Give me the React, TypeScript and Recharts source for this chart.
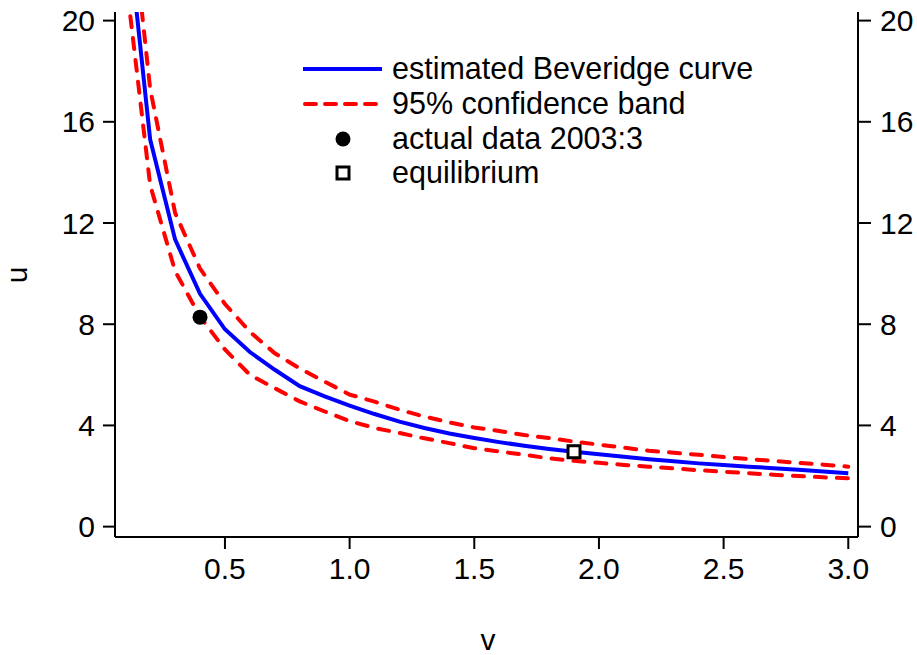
import { ComposedChart, Line, Scatter, XAxis, YAxis } from 'recharts';

// vacancy grid and curves
const vGrid = [
  0.1, 0.2, 0.3, 0.4, 0.5, 0.6, 0.7, 0.8, 0.9, 1.0,
  1.1, 1.2, 1.3, 1.4, 1.5, 1.6, 1.7, 1.8, 1.9, 2.0,
  2.1, 2.2, 2.3, 2.4, 2.5, 2.6, 2.7, 2.8, 2.9, 3.0,
];
const estimated = [
  24.6, 15.3, 11.35, 9.2, 7.8, 6.9, 6.2, 5.55, 5.15, 4.78,
  4.45, 4.15, 3.9, 3.68, 3.5, 3.34, 3.2, 3.07, 2.96, 2.86,
  2.76, 2.66, 2.58, 2.5, 2.44, 2.37, 2.31, 2.25, 2.18, 2.11,
];
const upperBand = [
  26.5, 17.3, 12.4, 10.2, 8.8, 7.7, 6.85, 6.25, 5.73, 5.22,
  4.94, 4.62, 4.35, 4.12, 3.92, 3.78, 3.62, 3.5, 3.36, 3.24,
  3.12, 3.0, 2.92, 2.84, 2.75, 2.67, 2.6, 2.52, 2.45, 2.37,
];
const lowerBand = [
  21.9, 13.5, 10.1, 8.3, 7.0, 6.0, 5.47, 4.95, 4.55, 4.17,
  3.9, 3.7, 3.49, 3.3, 3.1, 2.97, 2.84, 2.7, 2.6, 2.52,
  2.44, 2.37, 2.3, 2.23, 2.17, 2.11, 2.05, 2.0, 1.95, 1.91,
];
const actualPoint = [{ v: 0.4, u: 8.28 }];
const equilibriumPoint = [{ v: 1.9, u: 2.96 }];

const xTicks = [0.5, 1.0, 1.5, 2.0, 2.5, 3.0];
const yTicks = [0, 4, 8, 12, 16, 20];
const legendLabels = ['estimated Beveridge curve', '95% confidence band', 'actual data 2003:3', 'equilibrium'];

const rows = vGrid.map((v, i) => ({ v, est: estimated[i], upper: upperBand[i], lower: lowerBand[i] }));

const FONT = '"Liberation Sans", Arial, sans-serif';
const FS = 30;
const xDomain = [0.059, 3.039];
const yDomain = [-0.41, 20.34];
const axisStroke = { stroke: '#000', strokeWidth: 2 };
const tickStyle = { fontSize: FS, fill: '#000', fontFamily: FONT };

const Dot = (p: any) => <circle cx={p.cx} cy={p.cy} r={7.5} fill="#000" />;
const Box = (p: any) => (
  <rect x={p.cx - 6} y={p.cy - 6} width={12} height={12} fill="#fff" stroke="#000" strokeWidth={3} />
);

export default function App() {
  const rowY = [69, 104, 139, 173];
  return (
    <div style={{ position: 'absolute', left: 0, top: 0, width: 917, height: 655, background: '#fff' }}>
      <ComposedChart width={917} height={655} data={rows} margin={{ top: 12, right: 0, bottom: 0, left: 0 }}>
        <XAxis
          dataKey="v"
          type="number"
          domain={xDomain}
          allowDataOverflow
          ticks={xTicks}
          tickFormatter={(v: number) => v.toFixed(1)}
          height={118}
          tickSize={12}
          tickMargin={9}
          axisLine={axisStroke}
          tickLine={axisStroke}
          tick={tickStyle}
        />
        <XAxis
          xAxisId="top"
          orientation="top"
          dataKey="v"
          type="number"
          domain={xDomain}
          allowDataOverflow
          height={0}
          tick={false}
          tickLine={false}
          axisLine={axisStroke}
        />
        <YAxis
          type="number"
          domain={yDomain}
          allowDataOverflow
          ticks={yTicks}
          width={115}
          tickSize={12}
          tickMargin={8}
          axisLine={axisStroke}
          tickLine={axisStroke}
          tick={tickStyle}
        />
        <YAxis
          yAxisId="right"
          orientation="right"
          type="number"
          domain={yDomain}
          allowDataOverflow
          ticks={yTicks}
          width={59}
          tickSize={13}
          tickMargin={9}
          axisLine={axisStroke}
          tickLine={axisStroke}
          tick={tickStyle}
        />
        <Line type="linear" dataKey="upper" stroke="#ff0000" strokeWidth={4} strokeDasharray="11 11" strokeLinecap="round" dot={false} isAnimationActive={false} />
        <Line type="linear" dataKey="lower" stroke="#ff0000" strokeWidth={4} strokeDasharray="11 11" strokeLinecap="round" dot={false} isAnimationActive={false} />
        <Line type="linear" dataKey="est" stroke="#0000ff" strokeWidth={4} dot={false} isAnimationActive={false} />
        <Scatter data={actualPoint} dataKey="u" shape={Dot} isAnimationActive={false} />
        <Scatter data={equilibriumPoint} dataKey="u" shape={Box} isAnimationActive={false} />
      </ComposedChart>
      <svg width={917} height={655} style={{ position: 'absolute', left: 0, top: 0, pointerEvents: 'none' }}>
        <g fontFamily={FONT} fontSize={30.5} fill="#000">
          <line x1={303} x2={382} y1={rowY[0]} y2={rowY[0]} stroke="#0000ff" strokeWidth={4} />
          <line x1={305} x2={382} y1={rowY[1]} y2={rowY[1]} stroke="#ff0000" strokeWidth={4} strokeDasharray="11 9" strokeLinecap="round" />
          <circle cx={343} cy={rowY[2]} r={7.5} fill="#000" />
          <rect x={337} y={rowY[3] - 6} width={12} height={12} fill="#fff" stroke="#000" strokeWidth={3} />
          {legendLabels.map((t, i) => (
            <text key={t} x={392} y={rowY[i] + 9.5}>{t}</text>
          ))}
          <text x={488} y={650} textAnchor="middle" fontSize={FS}>v</text>
          <text x={0} y={0} textAnchor="middle" fontSize={FS} transform="translate(27 275) rotate(-90)">u</text>
        </g>
      </svg>
    </div>
  );
}
